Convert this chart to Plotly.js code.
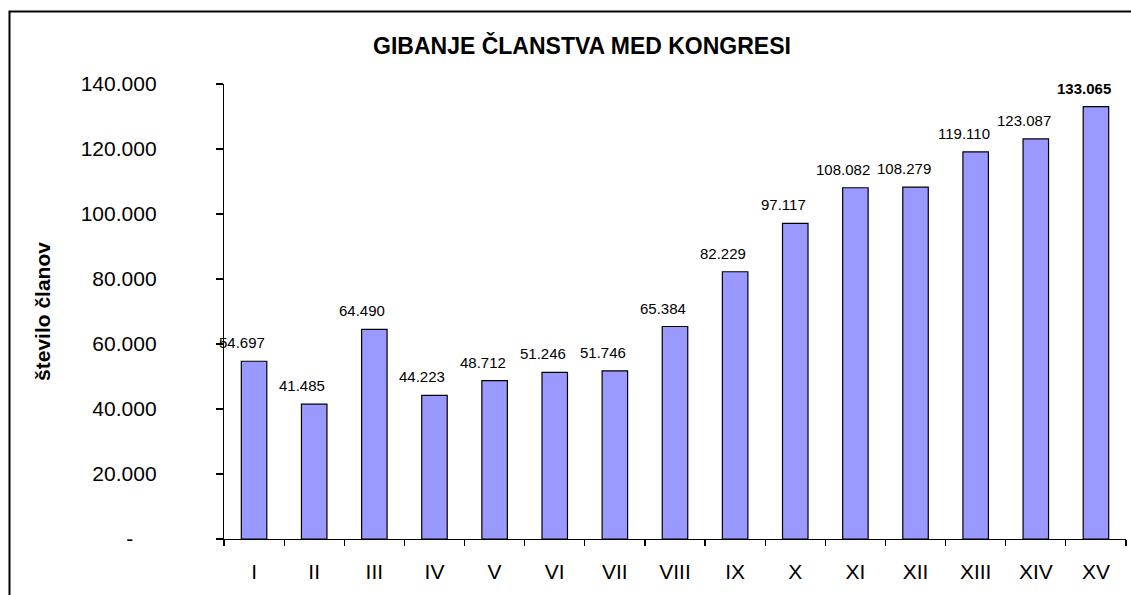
<!DOCTYPE html>
<html>
<head>
<meta charset="utf-8">
<script src="https://cdn.plot.ly/plotly-3.0.1.min.js"></script>
<style>
  html, body { margin: 0; padding: 0; background: #ffffff; }
  #chart { width: 1131px; height: 595px; }
</style>
</head>
<body>
<div id="chart"></div>
<script>
// ---- data ----
const categories = ["I", "II", "III", "IV", "V", "VI", "VII", "VIII", "IX", "X", "XI", "XII", "XIII", "XIV", "XV"];
const members = [54697, 41485, 64490, 44223, 48712, 51246, 51746, 65384, 82229, 97117, 108082, 108279, 119110, 123087, 133065];
const yTickValues = [0, 20000, 40000, 60000, 80000, 100000, 120000, 140000];
const chartTitle = "GIBANJE ČLANSTVA MED KONGRESI";
const yTitle = "število članov";

// ---- helpers ----
function fmt(n) {
  return String(n).replace(/\B(?=(\d{3})+(?!\d))/g, ".");
}
const NB = "\u00a0";
const yTickText = yTickValues.map(v => v === 0 ? "-" + NB.repeat(4) : fmt(v));

const FONT = "Liberation Sans, Arial, sans-serif";
const W = 1131, H = 595;
const M = { l: 224, r: 5, t: 84, b: 56 };
const pw = W - M.l - M.r, ph = H - M.t - M.b;

const lastIdx = members.length - 1;
const annotations = members.map((v, i) => ({
  x: categories[i],
  y: v,
  xref: "x",
  yref: "y",
  text: i === lastIdx ? "<b>" + fmt(v) + "</b>" : fmt(v),
  showarrow: false,
  xanchor: "center",
  yanchor: "bottom",
  xshift: -12,
  yshift: 8,
  font: { family: FONT, size: 15, color: "#000000" }
}));

// frame (chart area border, left and top visible)
const fx = (9.5 - M.l) / pw;
const fy = 1 + (M.t - 11.5) / ph;
const frame = {
  type: "path",
  xref: "paper",
  yref: "paper",
  path: `M ${fx} -0.5 L ${fx} ${fy} L 1.2 ${fy}`,
  line: { color: "#000000", width: 2 }
};

const trace = {
  type: "bar",
  x: categories,
  y: members,
  width: 0.424,
  marker: { color: "#9999FF", line: { color: "#000000", width: 1.2 } },
  hoverinfo: "x+y"
};

const layout = {
  width: W,
  height: H,
  margin: M,
  paper_bgcolor: "#ffffff",
  plot_bgcolor: "#ffffff",
  showlegend: false,
  font: { family: FONT, color: "#000000" },
  title: {
    text: "<b>" + chartTitle + "</b>",
    font: { family: FONT, size: 23, color: "#000000" },
    xref: "container",
    yref: "container",
    x: 582 / W,
    y: 1 - 46 / H,
    xanchor: "center",
    yanchor: "middle"
  },
  xaxis: {
    type: "category",
    range: [-0.5, categories.length - 0.5],
    showline: true,
    linecolor: "#000000",
    linewidth: 1.2,
    ticks: "outside",
    tickson: "boundaries",
    ticklen: 6,
    tickcolor: "#000000",
    tickwidth: 1.2,
    showgrid: false,
    zeroline: false,
    tickfont: { family: FONT, size: 21, color: "#000000" },
    ticklabelstandoff: 14
  },
  yaxis: {
    range: [0, 140000],
    tickmode: "array",
    tickvals: yTickValues,
    ticktext: yTickText,
    showline: true,
    linecolor: "#000000",
    linewidth: 1.2,
    ticks: "outside",
    ticklen: 7,
    tickcolor: "#000000",
    tickwidth: 1.2,
    showgrid: false,
    zeroline: false,
    tickfont: { family: FONT, size: 21, color: "#000000" },
    ticklabelstandoff: 55,
    title: {
      text: "<b>" + yTitle + "</b>",
      font: { family: FONT, size: 21, color: "#000000" },
      standoff: 24
    },
    automargin: false
  },
  annotations: annotations,
  shapes: [frame],
  bargap: 0.576
};

Plotly.newPlot("chart", [trace], layout, { displayModeBar: false, staticPlot: true });
</script>
</body>
</html>
